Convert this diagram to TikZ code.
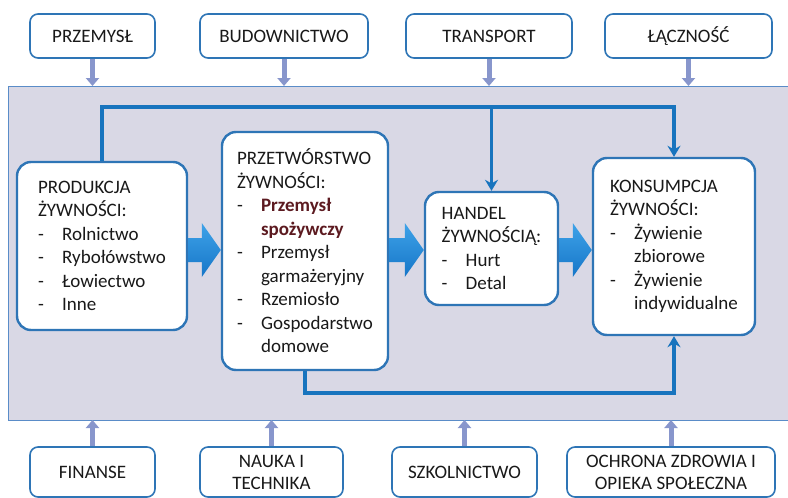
\documentclass[tikz,border=0pt]{standalone}
\usepackage{fontspec}
\setmainfont{Carlito}
\usetikzlibrary{arrows.meta,calc}

\definecolor{panelfill}{RGB}{217,216,229}
\definecolor{panelline}{RGB}{90,140,200}
\definecolor{boxline}{RGB}{46,117,182}
\definecolor{flowblue}{RGB}{24,116,190}
\definecolor{feedblue}{RGB}{136,150,204}
\definecolor{arrowtop}{RGB}{62,162,232}
\definecolor{arrowbot}{RGB}{22,118,200}
\definecolor{spoz}{RGB}{92,26,32}

% list item with a dash, and its continuation line
\newcommand{\li}[1]{\makebox[24pt][l]{-}#1}
\newcommand{\cont}[1]{\hspace*{24pt}#1}

\tikzset{
  sector/.style={draw=boxline, line width=1.6pt, fill=white, rounded corners=8pt,
    minimum height=44, align=center, text=black!90},
  stage/.style={draw=boxline, line width=2.4pt, fill=white, rounded corners=14pt,
    align=left, inner sep=0pt, text=black!90},
  flow/.style={draw=flowblue, line width=3.5pt},
  feed/.style={draw=feedblue, line width=5pt, -{Triangle[width=13pt,length=8pt]}},
  bigarrow/.style={top color=arrowtop, bottom color=arrowbot, draw=none}
}

\begin{document}
\begin{tikzpicture}[x=1pt, y=-1pt, font=\fontsize{19}{23.5}\selectfont]
  \useasboundingbox (0,0) rectangle (788,498);

  % grey panel with the food chain
  \fill[panelfill] (8,86) rectangle (788,420);
  \draw[panelline, line width=1pt] (788,86) -- (8,86) -- (8,420) -- (788,420);
  \coordinate (ptop) at (0,86);
  \coordinate (pbot) at (0,420);

  % sectors above the panel
  \node[sector, minimum width=125] (przemysl) at (92.5,36) {PRZEMYSŁ};
  \node[sector, minimum width=168] (budownictwo) at (284,36) {BUDOWNICTWO};
  \node[sector, minimum width=166] (transport) at (489,36) {TRANSPORT};
  \node[sector, minimum width=167] (lacznosc) at (688.5,36) {ŁĄCZNOŚĆ};

  % sectors below the panel
  \node[sector, minimum width=125, minimum height=50] (finanse) at (92.5,472) {FINANSE};
  \node[sector, minimum width=143, minimum height=50,
    font=\fontsize{19}{22}\selectfont] (nauka) at (271.5,472) {NAUKA I\\TECHNIKA};
  \node[sector, minimum width=145, minimum height=50] (szkolnictwo) at (464.5,472) {SZKOLNICTWO};
  \node[sector, minimum width=208, minimum height=50,
    font=\fontsize{19}{22}\selectfont] (ochrona) at (671,472) {OCHRONA ZDROWIA I\\OPIEKA SPOŁECZNA};

  % feeding arrows
  \foreach \s in {przemysl, budownictwo, transport, lacznosc}
    \draw[feed] (\s.south) -- (\s.south |- ptop);
  \foreach \s in {finanse, nauka, szkolnictwo, ochrona}
    \draw[feed] (\s.north) -- (\s.north |- pbot);

  % the four stages
  \node[stage, minimum width=170, minimum height=168] (prod) at (102,246)
    {PRODUKCJA\\ŻYWNOŚCI:\\\li{Rolnictwo}\\\li{Rybołówstwo}\\\li{Łowiectwo}\\\li{Inne}};
  \node[stage, minimum width=166, minimum height=238] (przetw) at (305,251)
    {PRZETWÓRSTWO\\ŻYWNOŚCI:\\\li{\textbf{\color{spoz}Przemysł}}\\
     \cont{\textbf{\color{spoz}spożywczy}}\\\li{Przemysł}\\\cont{garmażeryjny}\\
     \li{Rzemiosło}\\\li{Gospodarstwo}\\\cont{domowe}};
  \node[stage, minimum width=133, minimum height=113] (handel) at (491.5,248.5)
    {HANDEL\\ŻYWNOŚCIĄ:\\\li{Hurt}\\\li{Detal}};
  \node[stage, minimum width=162, minimum height=177] (kons) at (674,246.5)
    {KONSUMPCJA\\ŻYWNOŚCI:\\\li{Żywienie}\\\cont{zbiorowe}\\\li{Żywienie}\\\cont{indywidualne}};

  % thick arrows between the stages
  \foreach \a/\b in {prod/przetw, przetw/handel, handel/kons} {
    \coordinate (s) at (\a.east |- 0,250);
    \coordinate (t) at (\b.west |- 0,250);
    \path[bigarrow] ($(s)+(0,-12)$) -- ($(t)+(-19,-12)$) -- ($(t)+(-19,-27)$)
      -- (t) -- ($(t)+(-19,27)$) -- ($(t)+(-19,12)$) -- ($(s)+(0,12)$) -- cycle;
  }

  % links over and under the stages
  \draw[flow, -{Stealth[length=11pt,width=13pt]}]
    (prod.north) -- (prod.north |- 0,107) -| (kons.north);
  \draw[flow, -{Stealth[length=11pt,width=13pt]}]
    (handel.north |- 0,107) -- (handel.north);
  \draw[flow, -{Stealth[length=11pt,width=13pt]}]
    (przetw.south) -- (przetw.south |- 0,393) -| (kons.south);
\end{tikzpicture}
\end{document}
